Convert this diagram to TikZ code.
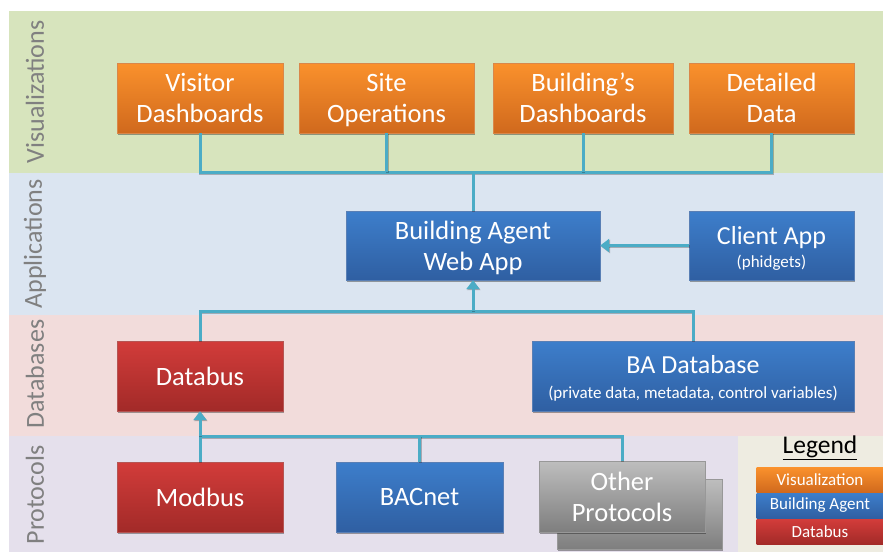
\documentclass[tikz,border=0pt]{standalone}
\usepackage{fontspec}
\setmainfont{Carlito}
\usetikzlibrary{arrows.meta,shadows}
\definecolor{bandV}{HTML}{D7E4BD}
\definecolor{bandA}{HTML}{DBE5F1}
\definecolor{bandD}{HTML}{F2DCDB}
\definecolor{bandP}{HTML}{E5E0EC}
\definecolor{legbg}{HTML}{EEECE1}
\definecolor{orT}{HTML}{FA912C}
\definecolor{orB}{HTML}{D0691D}
\definecolor{blT}{HTML}{3D7ECB}
\definecolor{blB}{HTML}{2F5FA2}
\definecolor{rdT}{HTML}{D23C3A}
\definecolor{rdB}{HTML}{A22A28}
\definecolor{grT}{HTML}{BEBEBE}
\definecolor{grB}{HTML}{7E7E7E}
\definecolor{conn}{HTML}{4BACC6}
\definecolor{lbl}{HTML}{808080}
\newcommand{\mystrut}{\rule[-6.3pt]{0pt}{31pt}}
\tikzset{
  box/.style={minimum width=#1, inner sep=0pt, align=center, text=white,
    font=\fontsize{26.5}{31}\selectfont,
    drop shadow={shadow xshift=1.2pt, shadow yshift=-1.5pt, opacity=0.35, fill=black}},
  vis/.style={box=#1, top color=orT, bottom color=orB, draw=orB!80!white, line width=0.4pt},
  ba/.style={box=#1, top color=blT, bottom color=blB, draw=blB!80!white, line width=0.4pt},
  dbus/.style={box=#1, top color=rdT, bottom color=rdB, draw=rdB!80!white, line width=0.4pt},
  gry/.style={box=#1, top color=grT, bottom color=grB, draw=grB!80!white, line width=0.4pt},
  wire/.style={draw=conn, line width=3pt, line join=miter,
    preaction={draw=black, opacity=0.25, line width=3pt, transform canvas={xshift=0.8pt,yshift=-1pt}}},
  tip/.style={-{Triangle[width=13pt,length=9pt]}},
  bandlbl/.style={rotate=90, text=lbl, font=\fontsize{26}{26}\selectfont},
  legbox/.style={minimum width=127pt, minimum height=25pt, inner sep=0pt, text=white,
    font=\fontsize{17}{17}\selectfont}
}
\begin{document}
\begin{tikzpicture}[x=1pt,y=-1pt]
\useasboundingbox (0,0) rectangle (883,552);
% bands
\fill[bandV] (9,11) rectangle (883,173);
\fill[bandA] (9,173) rectangle (883,315);
\fill[bandD] (9,315) rectangle (883,436);
\fill[bandP] (9,436) rectangle (883,552);
\fill[legbg] (738,436) rectangle (883,552);
\node[bandlbl] (lv) at (35,92) {Visualizations};
\node[bandlbl] (la) at (35,244) {Applications};
\node[bandlbl] (ld) at (35,374) {Databases};
\node[bandlbl] (lp) at (35,495) {Protocols};
% visualization row
\node[vis=166pt, minimum height=70pt] (vd) at (200,98) {Visitor\mystrut\\Dashboards\mystrut};
\node[vis=175pt, minimum height=70pt] (so) at (386.5,98) {Site\mystrut\\Operations\mystrut};
\node[vis=180pt, minimum height=70pt] (bd) at (583,98) {Building’s\mystrut\\Dashboards\mystrut};
\node[vis=165pt, minimum height=70pt] (dd) at (771.5,98) {Detailed\mystrut\\Data\mystrut};
% applications
\node[ba=254pt, minimum height=69pt] (web) at (473,245.5) {Building Agent\mystrut\\Web App\mystrut};
\node[ba=165pt, minimum height=69pt, font=\fontsize{26}{26}\selectfont] (cli) at (771.5,245.5) {\rule{0pt}{23pt}Client App\\[-3pt]{\fontsize{17}{20}\selectfont (phidgets)}};
% databases
\node[dbus=166pt, minimum height=70pt] (dbus) at (200,376) {Databus};
\node[ba=322pt, minimum height=70pt, font=\fontsize{26}{26}\selectfont] (bad) at (693,376) {\rule{0pt}{23pt}BA Database\\[-1pt]{\fontsize{17}{20}\selectfont (private data, metadata, control variables)}};
% protocols
\node[dbus=166pt, minimum height=70pt] (mod) at (200,497) {Modbus};
\node[ba=167pt, minimum height=70pt] (bac) at (419.5,497) {BACnet};
\node[gry=165pt, minimum height=70pt] (oth2) at (639.5,514) {};
\node[gry=166pt, minimum height=71pt] (oth) at (622,496.5) {Other\mystrut\\Protocols\mystrut};
% legend
\node[font=\fontsize{25.5}{25.5}\selectfont] (leg) at (820,448) {\underline{Legend}};
\node[legbox, top color=orT, bottom color=orB] (l1) at (820,480) {Visualization};
\node[legbox, top color=blT, bottom color=blB] (l2) at (820,505.5) {Building Agent};
\node[legbox, top color=rdT, bottom color=rdB] (l3) at (820,532) {Databus};
% connectors: visualization bus
\coordinate (busV) at (473,172);
\draw[wire] (vd.south) -- (vd.south |- busV) -- (dd.south |- busV) -- (dd.south);
\draw[wire] (so.south) -- (so.south |- busV);
\draw[wire] (bd.south) -- (bd.south |- busV);
\draw[wire] (busV) -- (web.north);
% client to web
\draw[wire, tip] (cli.west) -- (web.east);
% database bus
\coordinate (busD) at (473,311);
\draw[wire] (dbus.north) -- (dbus.north |- busD) -- (bad.north |- busD) -- (bad.north);
\draw[wire, tip] (busD) -- (web.south);
% protocol bus
\coordinate (busP) at (200,436);
\draw[wire] (mod.north) -- (busP) -- (oth.north |- busP) -- (oth.north);
\draw[wire] (bac.north) -- (bac.north |- busP);
\draw[wire, tip] (busP) -- (dbus.south);
\end{tikzpicture}
\end{document}
